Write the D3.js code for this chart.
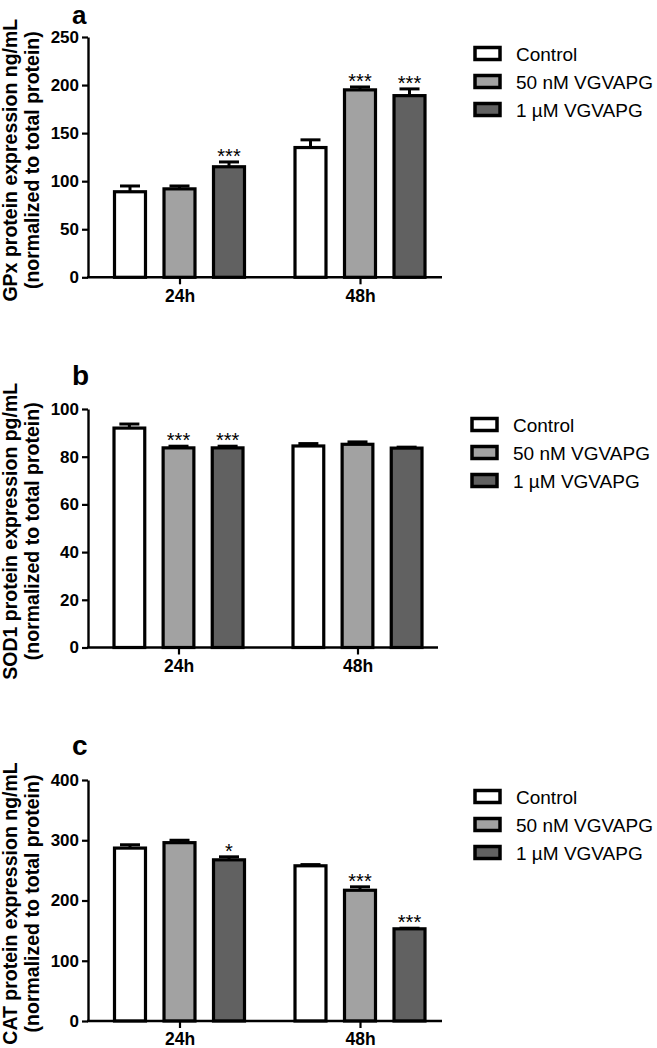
<!DOCTYPE html>
<html><head><meta charset="utf-8">
<script src="https://cdn.jsdelivr.net/npm/d3@7"></script>
<style>
body{margin:0;background:#fff}
text{font-family:"Liberation Sans",Arial,sans-serif;fill:#000}
</style>
</head><body>
<svg id="chart" width="657" height="1048"></svg>
<script>
// ---------- data ----------
const groups = ["24h", "48h"];
const series = ["Control", "50 nM VGVAPG", "1 \u00b5M VGVAPG"];
const seriesColors = ["#ffffff", "#a2a2a2", "#616161"];

const gpxMeans  = [[89, 92, 115], [135, 195, 189]];
const gpxErrors = [[6, 3, 5], [8, 3, 7]];
const gpxStars  = [["", "", "***"], ["", "***", "***"]];
const gpxTicks  = [0, 50, 100, 150, 200, 250];

const sodMeans  = [[92, 83.7, 83.7], [84.5, 85.2, 83.6]];
const sodErrors = [[1.7, 0.7, 0.7], [1, 1, 0.4]];
const sodStars  = [["", "***", "***"], ["", "", ""]];
const sodTicks  = [0, 20, 40, 60, 80, 100];

const catMeans  = [[287, 296, 267.5], [257.6, 217, 153]];
const catErrors = [[5.5, 4, 5], [2, 5.7, 1]];
const catStars  = [["", "", "*"], ["", "***", "***"]];
const catTicks  = [0, 100, 200, 300, 400];

// ---------- layout ----------
const panels = [
  {label: "a", t1: "GPx protein expression ng/mL", t2: "(normalized to total protein)",
   means: gpxMeans, errors: gpxErrors, stars: gpxStars, ticks: gpxTicks,
   top: 37, bottom: 277.3, xL: 88, xR: 442, c: [179.5, 360], half: 65,
   labelY: 23.5, labelSize: 26, legendX: 475, legendY: 54, legendTextX: 516},
  {label: "b", t1: "SOD1 protein expression pg/mL", t2: "(normalized to total protein)",
   means: sodMeans, errors: sodErrors, stars: sodStars, ticks: sodTicks,
   top: 409, bottom: 647.5, xL: 88, xR: 438, c: [178.5, 357.5], half: 64.5,
   labelY: 385, labelSize: 28, legendX: 472, legendY: 425, legendTextX: 513},
  {label: "c", t1: "CAT protein expression ng/mL", t2: "(normalized to total protein)",
   means: catMeans, errors: catErrors, stars: catStars, ticks: catTicks,
   top: 780, bottom: 1021, xL: 88, xR: 442, c: [179.5, 360], half: 65,
   labelY: 755, labelSize: 28, legendX: 475, legendY: 797, legendTextX: 516}
];

const svg = d3.select("#chart");

panels.forEach(p => {
  const g = svg.append("g");
  const y = d3.scaleLinear().domain([0, d3.max(p.ticks)]).range([p.bottom, p.top]);
  const x0 = d3.scalePoint().domain(groups).range(p.c);
  const x1 = d3.scaleBand().domain(series).range([-p.half, p.half]).paddingInner(0.374);
  const color = d3.scaleOrdinal().domain(series).range(seriesColors);

  // bars
  groups.forEach((grp, gi) => {
    series.forEach((s, si) => {
      const m = p.means[gi][si], e = p.errors[gi][si];
      const bx = x0(grp) + x1(s);
      const cx = bx + x1.bandwidth() / 2;
      g.append("rect")
        .attr("x", bx).attr("y", y(m))
        .attr("width", x1.bandwidth()).attr("height", y(0) - y(m))
        .attr("fill", color(s)).attr("stroke", "#000").attr("stroke-width", 3.2);
      g.append("line")
        .attr("x1", cx).attr("x2", cx).attr("y1", y(m)).attr("y2", y(m + e))
        .attr("stroke", "#000").attr("stroke-width", 3);
      g.append("line")
        .attr("x1", cx - 10).attr("x2", cx + 10).attr("y1", y(m + e)).attr("y2", y(m + e))
        .attr("stroke", "#000").attr("stroke-width", 3);
      const st = p.stars[gi][si];
      if (st) {
        g.append("text").attr("x", cx).attr("y", y(m + e) + 1)
          .attr("text-anchor", "middle").style("font-size", "20px").text(st);
      }
    });
  });

  // y axis
  const ya = g.append("g").attr("transform", `translate(${p.xL},0)`)
    .call(d3.axisLeft(y).tickValues(p.ticks).tickSize(6).tickSizeOuter(0).tickPadding(3));
  ya.select(".domain").attr("stroke-width", 2.4);
  ya.selectAll(".tick line").attr("stroke-width", 2.2);
  ya.selectAll(".tick text").style("font-size", "17px").style("font-weight", "bold")
    .style("font-family", '"Liberation Sans",Arial,sans-serif');

  // x axis
  g.append("line").attr("x1", p.xL - 1).attr("x2", p.xR).attr("y1", y(0)).attr("y2", y(0))
    .attr("stroke", "#000").attr("stroke-width", 2.4);
  const xa = g.append("g").attr("transform", `translate(0,${y(0)})`)
    .call(d3.axisBottom(x0).tickSize(7).tickPadding(5));
  xa.select(".domain").remove();
  xa.selectAll(".tick line").attr("stroke-width", 2.2);
  xa.selectAll(".tick text").style("font-size", "17.5px").style("font-weight", "bold")
    .style("font-family", '"Liberation Sans",Arial,sans-serif');

  // y title
  const cy = (p.top + p.bottom) / 2 + 3;
  g.append("text").attr("transform", `translate(16.5,${cy}) rotate(-90)`)
    .attr("text-anchor", "middle").style("font-size", "19.5px").style("font-weight", "bold").text(p.t1);
  g.append("text").attr("transform", `translate(38.5,${cy}) rotate(-90)`)
    .attr("text-anchor", "middle").style("font-size", "19.5px").style("font-weight", "bold").text(p.t2);

  // panel label
  g.append("text").attr("x", 72).attr("y", p.labelY)
    .style("font-size", p.labelSize + "px").style("font-weight", "bold").text(p.label);

  // legend
  series.forEach((s, si) => {
    const ry = p.legendY + si * 28;
    g.append("rect").attr("x", p.legendX).attr("y", ry - 6.5).attr("width", 25).attr("height", 12)
      .attr("fill", color(s)).attr("stroke", "#000").attr("stroke-width", 3.5);
    g.append("text").attr("x", p.legendTextX).attr("y", ry).attr("dy", "0.35em")
      .style("font-size", "19px").text(s);
  });
});
</script>
</body></html>
